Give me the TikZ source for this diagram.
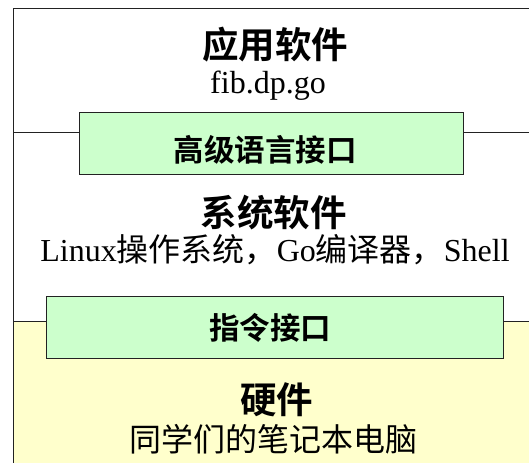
\documentclass[tikz,border=0pt]{standalone}
\usepackage{fontspec}
\setmainfont{Liberation Serif}
\newfontfamily\cjk{Noto Sans CJK SC}
\newfontfamily\cjkb{Noto Sans CJK SC Bold}
\definecolor{boxgreen}{HTML}{CCFFCC}
\definecolor{hwyellow}{HTML}{FFFFCC}
\definecolor{edge}{HTML}{222222}
\begin{document}
\begin{tikzpicture}[x=1pt,y=-1pt,
  iface/.style={draw=edge,line width=1pt,fill=boxgreen,inner sep=0pt,minimum height=62pt},
  title/.style={inner sep=0pt,anchor=base,font=\fontsize{36.5}{40}\selectfont\cjkb},
  ifacetext/.style={inner sep=0pt,anchor=base,font=\fontsize{30.5}{34}\selectfont\cjkb},
  sub/.style={inner sep=0pt,anchor=base,font=\fontsize{32}{36}\selectfont},
  frame/.style={draw=edge,line width=1pt}]
\useasboundingbox (0,0) rectangle (529,463);
\fill[hwyellow] (13,321) rectangle (529,463);
\coordinate (tl) at (13,8);
\coordinate (tr) at (529,8);
\coordinate (bl) at (13,463);
\coordinate (l1) at (13,132);
\coordinate (r1) at (529,132);
\coordinate (l2) at (13,321);
\coordinate (r2) at (529,321);
\node[iface,minimum width=384pt] (hll) at (271,143) {};
\node[ifacetext] (hlltext) at (265,161) {高级语言接口};
\node[iface,minimum width=457pt] (isa) at (274.5,327) {};
\node[ifacetext] (isatext) at (270,339) {指令接口};
\draw[frame] (tr) -- (tl) -- (bl);
\draw[frame] (l1) -- (l1 -| hll.west);
\draw[frame] (r1 -| hll.east) -- (r1);
\draw[frame] (l2) -- (l2 -| isa.west);
\draw[frame] (r2 -| isa.east) -- (r2);
\node[title] (app) at (275,58) {应用软件};
\node[sub] (appsub) at (268,93) {fib.dp.go};
\node[title] (sys) at (273.5,226.5) {系统软件};
\node[sub] (syssub) at (275,261) {Linux{\cjk 操作系统，}Go{\cjk 编译器，}Shell};
\node[title] (hw) at (276.5,413) {硬件};
\node[sub] (hwsub) at (273.5,451) {\cjk 同学们的笔记本电脑};
\end{tikzpicture}
\end{document}
